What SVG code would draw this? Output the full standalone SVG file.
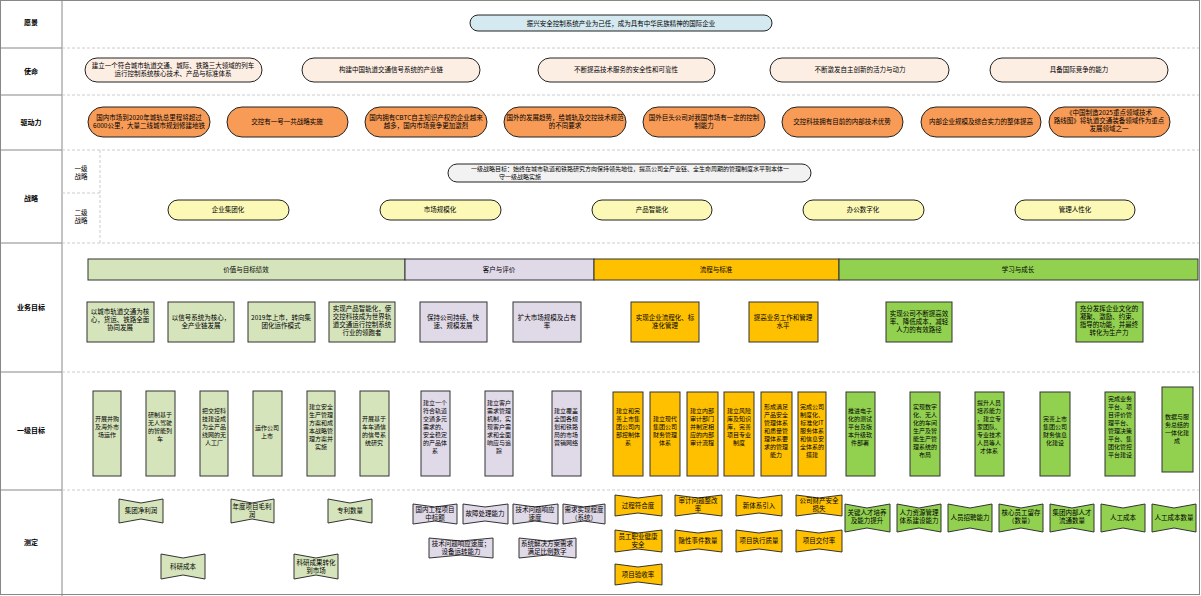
<svg xmlns="http://www.w3.org/2000/svg" width="1201" height="596" viewBox="0 0 1201 596">
<style>
text{font-family:"Noto Sans CJK SC","Noto Sans",sans-serif;font-size:6.5px;text-anchor:middle;fill:#000}
.lb{font-size:7px;font-weight:bold}
.sm{font-size:6px}
.pill{stroke:#222;stroke-width:1}
.box{stroke:#333;stroke-width:1}
.sep{stroke:#ccc;stroke-width:1;stroke-dasharray:3 2;fill:none}
.g1{fill:#d6e4bc}.lv{fill:#e0d9e8}.or{fill:#ffc000}.g2{fill:#92d050}
</style>
<rect x="0" y="0" width="1201" height="596" fill="#fff"/>
<g id="frame">
<rect x="0.5" y="0.5" width="1199" height="594" fill="none" stroke="#888"/>
<line x1="62" y1="0" x2="62" y2="596" stroke="#888"/>
<g stroke="#888"><line x1="0" y1="48" x2="62" y2="48"/><line x1="0" y1="95" x2="62" y2="95"/><line x1="0" y1="150" x2="62" y2="150"/><line x1="0" y1="243" x2="62" y2="243"/><line x1="0" y1="372" x2="62" y2="372"/><line x1="0" y1="490" x2="62" y2="490"/></g>
<g class="sep"><line x1="62" y1="48" x2="1199" y2="48"/><line x1="62" y1="95" x2="1199" y2="95"/><line x1="62" y1="150" x2="1199" y2="150"/><line x1="62" y1="243" x2="1199" y2="243"/><line x1="62" y1="372" x2="1199" y2="372"/><line x1="62" y1="490" x2="1199" y2="490"/><line x1="100" y1="150" x2="100" y2="243"/><line x1="62" y1="193" x2="100" y2="193"/></g>
<text class="lb" x="31" y="25">愿景</text><text class="lb" x="31" y="74">使命</text><text class="lb" x="31" y="125">驱动力</text><text class="lb" x="31" y="201">战略</text><text class="lb" x="31" y="310">业务目标</text><text class="lb" x="31" y="433">一级目标</text><text class="lb" x="31" y="545">测定</text>
<text x="81" y="171">一级<tspan x="81" dy="8">战略</tspan></text><text x="81" y="215">二级<tspan x="81" dy="8">战略</tspan></text>
</g>
<g id="vision"><rect class="pill" x="470" y="15" width="302" height="16" rx="8" fill="#d5eaf0"/><text x="621" y="25.5">振兴安全控制系统产业为己任，成为具有中华民族精神的国际企业</text></g>
<g id="mission">
<rect class="pill" x="85" y="58" width="177" height="24" rx="12" fill="#fdeee4"/><text x="173" y="68">建立一个符合城市轨道交通、城际、铁路三大领域的列车<tspan x="173" dy="8">运行控制系统核心技术、产品与标准体系</tspan></text>
<rect class="pill" x="302" y="58" width="178" height="24" rx="12" fill="#fdeee4"/><text x="391" y="72">构建中国轨道交通信号系统的产业链</text>
<rect class="pill" x="538" y="58" width="177" height="24" rx="12" fill="#fdeee4"/><text x="626" y="72">不断提高技术服务的安全性和可靠性</text>
<rect class="pill" x="770" y="58" width="179" height="24" rx="12" fill="#fdeee4"/><text x="860" y="72">不断激发自主创新的活力与动力</text>
<rect class="pill" x="990" y="58" width="178" height="24" rx="12" fill="#fdeee4"/><text x="1079" y="72">具备国际竞争的能力</text>
</g>
<g id="drivers">
<rect class="pill" x="88" y="107" width="122" height="30" rx="15" fill="#f79b56"/><text x="149" y="120">国内市场到2020年城轨总里程将超过<tspan x="149" dy="8">6000公里，大量二线城市规划修建地铁</tspan></text>
<rect class="pill" x="227" y="107" width="121" height="30" rx="15" fill="#f79b56"/><text x="287" y="124">交控有一号一共战略实施</text>
<rect class="pill" x="365" y="107" width="122" height="30" rx="15" fill="#f79b56"/><text x="426" y="120">国内拥有CBTC自主知识产权的企业越来<tspan x="426" dy="8">越多，国内市场竞争更加激烈</tspan></text>
<rect class="pill" x="504" y="107" width="122" height="30" rx="15" fill="#f79b56"/><text x="565" y="120">国外的发展趋势，给城轨及交控技术规范<tspan x="565" dy="8">的不同要求</tspan></text>
<rect class="pill" x="643" y="107" width="122" height="30" rx="15" fill="#f79b56"/><text x="704" y="120">国外巨头公司对我国市场有一定的控制<tspan x="704" dy="8">制能力</tspan></text>
<rect class="pill" x="782" y="107" width="121" height="30" rx="15" fill="#f79b56"/><text x="842" y="124">交控科技拥有目前的内部技术优势</text>
<rect class="pill" x="921" y="107" width="120" height="30" rx="15" fill="#f79b56"/><text x="981" y="124">内部企业规模及综合实力的整体提高</text>
<rect class="pill" x="1049" y="107" width="121" height="30" rx="15" fill="#f79b56"/><text x="1109" y="115">《中国制造2025重点领域技术<tspan x="1109" dy="8">路线图》将轨道交通装备领域作为重点</tspan><tspan x="1109" dy="8">发展领域之一</tspan></text>
</g>
<g id="strategy">
<rect class="pill" x="448" y="164" width="363" height="18" rx="9" fill="#f2f2f2"/><text class="sm" x="630" y="171">一级战略目标：始终在城市轨道和铁路研究方向保持领先地位，提高公司全产业链、全生命周期的管理制度水平到本体一<tspan x="520" dy="8">守一级战略实施</tspan></text>
<rect class="pill" x="168" y="200" width="121" height="20" rx="10" fill="#fbf9b5"/><text x="228" y="212">企业集团化</text>
<rect class="pill" x="380" y="200" width="121" height="20" rx="10" fill="#fbf9b5"/><text x="440" y="212">市场规模化</text>
<rect class="pill" x="592" y="200" width="120" height="20" rx="10" fill="#fbf9b5"/><text x="652" y="212">产品智能化</text>
<rect class="pill" x="803" y="200" width="121" height="20" rx="10" fill="#fbf9b5"/><text x="863" y="212">办公数字化</text>
<rect class="pill" x="1015" y="200" width="120" height="20" rx="10" fill="#fbf9b5"/><text x="1075" y="212">管理人性化</text>
</g>
<g id="business-headers">
<rect class="box g1" x="88" y="259" width="317" height="21"/><text x="246" y="272">价值与目标绩效</text>
<rect class="box lv" x="405" y="259" width="189" height="21"/><text x="499" y="272">客户与评价</text>
<rect class="box or" x="594" y="259" width="245" height="21"/><text x="716" y="272">流程与标准</text>
<rect class="box g2" x="839" y="259" width="359" height="21"/><text x="1018" y="272">学习与成长</text>
</g>
<g id="business-goals">
<rect class="box g1" x="87" y="302" width="67" height="40"/><text x="120" y="314">以城市轨道交通为核<tspan x="120" dy="8">心，货运、铁路全面</tspan><tspan x="120" dy="8">协同发展</tspan></text>
<rect class="box g1" x="168" y="302" width="66" height="40"/><text x="201" y="320">以信号系统为核心，<tspan x="201" dy="8">全产业链发展</tspan></text>
<rect class="box g1" x="248" y="302" width="67" height="40"/><text x="281" y="320">2019年上市，转向集<tspan x="281" dy="8">团化运作模式</tspan></text>
<rect class="box g1" x="329" y="302" width="66" height="40"/><text x="362" y="311">实现产品智能化，使<tspan x="362" dy="8">交控科技成为世界轨</tspan><tspan x="362" dy="8">道交通运行控制系统</tspan><tspan x="362" dy="8">行业的领跑者</tspan></text>
<rect class="box lv" x="420" y="302" width="67" height="40"/><text x="453" y="320">保持公司持续、快<tspan x="453" dy="8">速、规模发展</tspan></text>
<rect class="box lv" x="513" y="302" width="68" height="40"/><text x="547" y="320">扩大市场规模及占有<tspan x="547" dy="8">率</tspan></text>
<rect class="box or" x="631" y="302" width="68" height="40"/><text x="665" y="320">实现企业流程化、标<tspan x="665" dy="8">准化管理</tspan></text>
<rect class="box or" x="749" y="302" width="69" height="40"/><text x="783" y="320">提高业务工作和管理<tspan x="783" dy="8">水平</tspan></text>
<rect class="box g2" x="886" y="302" width="66" height="40"/><text x="919" y="316">实现公司不断提高效<tspan x="919" dy="8">率、降低成本，减轻</tspan><tspan x="919" dy="8">人力的有效路径</tspan></text>
<rect class="box g2" x="1076" y="302" width="67" height="40"/><text x="1109" y="311">充分发挥企业文化的<tspan x="1109" dy="8">凝聚、激励、约束、</tspan><tspan x="1109" dy="8">指导的功能，并最终</tspan><tspan x="1109" dy="8">转化为生产力</tspan></text>
</g>
<g id="level1-goals" class="sm">
<rect class="box g1" x="93" y="391" width="28" height="85"/><text class="sm" x="107" y="421">开展并购<tspan x="107" dy="8">及海外市</tspan><tspan x="107" dy="8">场运作</tspan></text>
<rect class="box g1" x="146" y="391" width="29" height="85"/><text class="sm" x="160" y="417">研制基于<tspan x="160" dy="8">无人驾驶</tspan><tspan x="160" dy="8">的智能列</tspan><tspan x="160" dy="8">车</tspan></text>
<rect class="box g1" x="200" y="391" width="28" height="85"/><text class="sm" x="214" y="413">把交控科<tspan x="214" dy="8">技建设成</tspan><tspan x="214" dy="8">为全产品</tspan><tspan x="214" dy="8">线网的无</tspan><tspan x="214" dy="8">人工厂</tspan></text>
<rect class="box g1" x="253" y="391" width="29" height="85"/><text class="sm" x="267" y="430">运作公司<tspan x="267" dy="8">上市</tspan></text>
<rect class="box g1" x="307" y="391" width="28" height="85"/><text class="sm" x="321" y="409">建立安全<tspan x="321" dy="8">生产管理</tspan><tspan x="321" dy="8">方案和成</tspan><tspan x="321" dy="8">本战略管</tspan><tspan x="321" dy="8">理方案并</tspan><tspan x="321" dy="8">实施</tspan></text>
<rect class="box g1" x="360" y="391" width="29" height="85"/><text class="sm" x="374" y="421">开展基于<tspan x="374" dy="8">车车通信</tspan><tspan x="374" dy="8">的信号系</tspan><tspan x="374" dy="8">统研究</tspan></text>
<rect class="box lv" x="421" y="391" width="29" height="85"/><text class="sm" x="435" y="405">建立一个<tspan x="435" dy="8">符合轨道</tspan><tspan x="435" dy="8">交通多元</tspan><tspan x="435" dy="8">需求的、</tspan><tspan x="435" dy="8">安全稳定</tspan><tspan x="435" dy="8">的产品体</tspan><tspan x="435" dy="8">系</tspan></text>
<rect class="box lv" x="485" y="391" width="28" height="85"/><text class="sm" x="499" y="405">建立客户<tspan x="499" dy="8">需求管理</tspan><tspan x="499" dy="8">机制，实</tspan><tspan x="499" dy="8">现客户需</tspan><tspan x="499" dy="8">求和全面</tspan><tspan x="499" dy="8">响应与追</tspan><tspan x="499" dy="8">踪</tspan></text>
<rect class="box lv" x="552" y="391" width="29" height="85"/><text class="sm" x="566" y="413">建立覆盖<tspan x="566" dy="8">全国各规</tspan><tspan x="566" dy="8">划和铁路</tspan><tspan x="566" dy="8">局的市场</tspan><tspan x="566" dy="8">营销网络</tspan></text>
<rect class="box or" x="613" y="392" width="30" height="84"/><text class="sm" x="628" y="413">建立和完<tspan x="628" dy="8">善上市集</tspan><tspan x="628" dy="8">团公司内</tspan><tspan x="628" dy="8">部控制体</tspan><tspan x="628" dy="8">系</tspan></text>
<rect class="box or" x="650" y="392" width="30" height="84"/><text class="sm" x="665" y="421">建立现代<tspan x="665" dy="8">集团公司</tspan><tspan x="665" dy="8">财务管理</tspan><tspan x="665" dy="8">体系</tspan></text>
<rect class="box or" x="687" y="392" width="31" height="84"/><text class="sm" x="702" y="413">建立内部<tspan x="702" dy="8">审计部门</tspan><tspan x="702" dy="8">并制定相</tspan><tspan x="702" dy="8">应的内部</tspan><tspan x="702" dy="8">审计流程</tspan></text>
<rect class="box or" x="724" y="392" width="30" height="84"/><text class="sm" x="739" y="413">建立风险<tspan x="739" dy="8">库及知识</tspan><tspan x="739" dy="8">库，完善</tspan><tspan x="739" dy="8">项目专业</tspan><tspan x="739" dy="8">制度</tspan></text>
<rect class="box or" x="761" y="392" width="31" height="84"/><text class="sm" x="776" y="409">形成满足<tspan x="776" dy="8">产品安全</tspan><tspan x="776" dy="8">管理体系</tspan><tspan x="776" dy="8">和质量管</tspan><tspan x="776" dy="8">理体系要</tspan><tspan x="776" dy="8">求的管理</tspan><tspan x="776" dy="8">能力</tspan></text>
<rect class="box or" x="798" y="392" width="28" height="84"/><text class="sm" x="812" y="409">完成公司<tspan x="812" dy="8">制度化、</tspan><tspan x="812" dy="8">标准化IT</tspan><tspan x="812" dy="8">服务体系</tspan><tspan x="812" dy="8">和信息安</tspan><tspan x="812" dy="8">全体系的</tspan><tspan x="812" dy="8">搭建</tspan></text>
<rect class="box g2" x="846" y="392" width="29" height="84"/><text class="sm" x="860" y="413">推进电子<tspan x="860" dy="8">化的测试</tspan><tspan x="860" dy="8">平台及版</tspan><tspan x="860" dy="8">本升级软</tspan><tspan x="860" dy="8">件部署</tspan></text>
<rect class="box g2" x="910" y="392" width="30" height="84"/><text class="sm" x="925" y="409">实现数字<tspan x="925" dy="8">化、无人</tspan><tspan x="925" dy="8">化的车间</tspan><tspan x="925" dy="8">生产及智</tspan><tspan x="925" dy="8">能生产管</tspan><tspan x="925" dy="8">理系统的</tspan><tspan x="925" dy="8">布局</tspan></text>
<rect class="box g2" x="975" y="392" width="29" height="84"/><text class="sm" x="989" y="405">提升人员<tspan x="989" dy="8">培养能力</tspan><tspan x="989" dy="8">，建立专</tspan><tspan x="989" dy="8">家团队、</tspan><tspan x="989" dy="8">专业技术</tspan><tspan x="989" dy="8">人员等人</tspan><tspan x="989" dy="8">才体系</tspan></text>
<rect class="box g2" x="1040" y="392" width="30" height="84"/><text class="sm" x="1055" y="421">完善上市<tspan x="1055" dy="8">集团公司</tspan><tspan x="1055" dy="8">财务信息</tspan><tspan x="1055" dy="8">化建设</tspan></text>
<rect class="box g2" x="1105" y="392" width="30" height="84"/><text class="sm" x="1120" y="401">完成业务<tspan x="1120" dy="8">平台、项</tspan><tspan x="1120" dy="8">目评价管</tspan><tspan x="1120" dy="8">理平台、</tspan><tspan x="1120" dy="8">管理决策</tspan><tspan x="1120" dy="8">平台、集</tspan><tspan x="1120" dy="8">团化管控</tspan><tspan x="1120" dy="8">平台建设</tspan></text>
<rect class="box g2" x="1162" y="387" width="31" height="85"/><text class="sm" x="1177" y="419">数据与服<tspan x="1177" dy="8">务总结的</tspan><tspan x="1177" dy="8">一体化建</tspan><tspan x="1177" dy="8">成</tspan></text>
</g>
<g id="measures" stroke="#333" stroke-width="1">
<path class="g1" d="M119 499L141 503L163 499V523L141 519L119 523Z"/><path class="g1" d="M231 499L252 503L274 499V523L252 519L231 523Z"/><path class="g1" d="M328 499L350 503L372 499V523L350 519L328 523Z"/>
<path class="g1" d="M161 554L183 558L205 554V579L183 575L161 579Z"/><path class="g1" d="M294 554L316 558L338 554V579L316 575L294 579Z"/>
<path class="lv" d="M413 504L435 507L457 504V524L435 521L413 524Z"/><path class="lv" d="M463 504L485 507L508 504V524L485 521L463 524Z"/><path class="lv" d="M513 504L535 507L558 504V524L535 521L513 524Z"/><path class="lv" d="M563 504L584 507L605 504V524L584 521L563 524Z"/>
<path class="lv" d="M429 538L461 541L493 538V558L461 555L429 558Z"/><path class="lv" d="M519 538L547 541L576 538V558L547 555L519 558Z"/>
<path class="or" d="M615 495L638 498L662 495V516L638 513L615 516Z"/><path class="or" d="M675 495L698 498L722 495V516L698 513L675 516Z"/><path class="or" d="M736 495L759 498L782 495V516L759 513L736 516Z"/><path class="or" d="M796 495L819 498L842 495V516L819 513L796 516Z"/>
<path class="or" d="M615 530L638 533L662 530V552L638 549L615 552Z"/><path class="or" d="M675 530L698 533L722 530V552L698 549L675 552Z"/><path class="or" d="M736 530L759 533L782 530V552L759 549L736 552Z"/><path class="or" d="M796 530L819 533L842 530V552L819 549L796 552Z"/>
<path class="or" d="M615 564L638 567L662 564V585L638 582L615 585Z"/>
<path class="g2" d="M845 504L867 508L890 504V532L867 528L845 532Z"/><path class="g2" d="M897 504L919 508L941 504V532L919 528L897 532Z"/><path class="g2" d="M948 504L970 508L992 504V532L970 528L948 532Z"/><path class="g2" d="M999 504L1021 508L1043 504V532L1021 528L999 532Z"/><path class="g2" d="M1050 504L1072 508L1094 504V532L1072 528L1050 532Z"/><path class="g2" d="M1101 504L1123 508L1145 504V532L1123 528L1101 532Z"/><path class="g2" d="M1152 504L1174 508L1196 504V532L1174 528L1152 532Z"/>
</g>
<g id="measure-labels">
<text x="141" y="513">集团净利润</text><text x="252" y="509">年度项目毛利<tspan x="252" dy="8">润</tspan></text><text x="350" y="513">专利数量</text>
<text x="183" y="569">科研成本</text><text x="316" y="565">科研成果转化<tspan x="316" dy="8">到市场</tspan></text>
<text x="435" y="512">国内工程项目<tspan x="435" dy="8">中标额</tspan></text><text x="485" y="516">故障处理能力</text><text x="535" y="512">技术问题响应<tspan x="535" dy="8">速度</tspan></text><text x="584" y="512">需求实现程度<tspan x="584" dy="8">（系统）</tspan></text>
<text x="461" y="546">技术问题响应速度；<tspan x="461" dy="8">设备运转能力</tspan></text><text x="547" y="546">系统解决方案需求<tspan x="547" dy="8">满足比例数字</tspan></text>
<text x="638" y="508">过程符合度</text><text x="698" y="503">审计问题整改<tspan x="698" dy="8">率</tspan></text><text x="759" y="508">新体系引入</text><text x="819" y="503">公司财产安全<tspan x="819" dy="8">损失</tspan></text>
<text x="638" y="539">员工职业健康<tspan x="638" dy="8">安全</tspan></text><text x="698" y="543">隐性事件数量</text><text x="759" y="543">项目执行质量</text><text x="819" y="543">项目交付率</text>
<text x="638" y="577">项目验收率</text>
<text x="867" y="515">关键人才培养<tspan x="867" dy="8">及能力提升</tspan></text><text x="919" y="515">人力资源管理<tspan x="919" dy="8">体系建设能力</tspan></text><text x="970" y="520">人员招聘能力</text><text x="1021" y="515">核心员工留存<tspan x="1021" dy="8">（数量）</tspan></text><text x="1072" y="515">集团内部人才<tspan x="1072" dy="8">流通数量</tspan></text><text x="1123" y="520">人工成本</text><text x="1174" y="520">人工成本数量</text>
</g>
<g id="connectors"></g>
</svg>
